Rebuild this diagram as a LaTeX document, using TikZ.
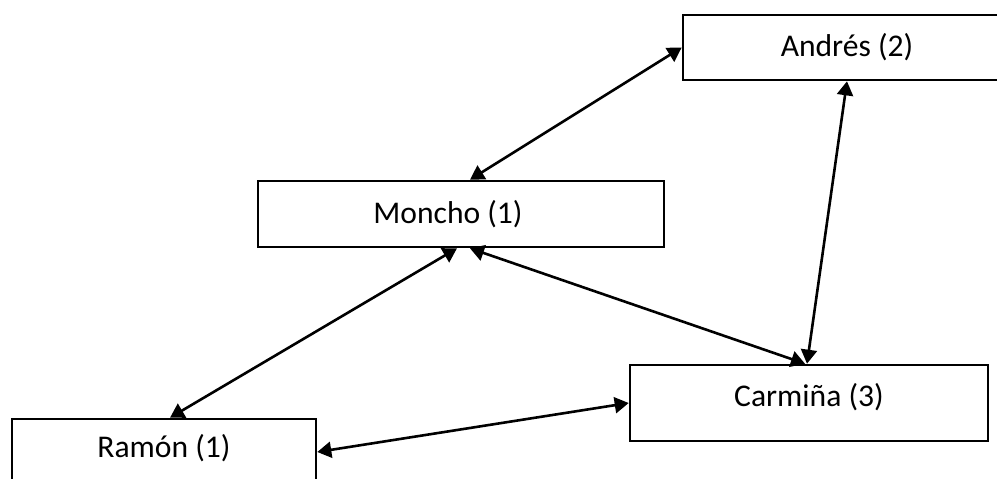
\documentclass[tikz,border=0pt]{standalone}
\usepackage{fontspec}
\setmainfont{Carlito}
\usetikzlibrary{arrows.meta,calc}

\tikzset{
  person/.style={draw=black, line width=2.6pt, fill=white, inner sep=0pt,
    font=\fontsize{31.6}{38}\selectfont},
  link/.style={line width=2.6pt, {Triangle[length=14pt,width=16pt]}-{Triangle[length=14pt,width=16pt]},
    shorten <=0pt, shorten >=0pt}
}

\begin{document}
\begin{tikzpicture}[x=1pt,y=-1pt]
  \useasboundingbox (0,0) rectangle (997,479);
  \clip (0,0) rectangle (997,479);

  % people
  \node[person, minimum width=328pt, minimum height=65pt] (andres) at (847,47.5) {Andrés (2)};
  \node[person, minimum width=406pt, minimum height=66pt] (moncho) at (461,214) {Moncho (1)\hspace*{26pt}};
  \node[person, minimum width=358pt, minimum height=76pt] (carmina) at (809,403) {};
  \node[font=\fontsize{31.6}{38}\selectfont, inner sep=0pt] (carminatxt) at (809,397) {Carmiña (3)};
  \node[person, minimum width=304pt, minimum height=66pt] (ramon) at (164,452) {};
  \node[font=\fontsize{31.6}{38}\selectfont, inner sep=0pt] (ramontxt) at (164,448) {Ramón (1)};

  % relations
  \draw[link] ($(moncho.north)+(9,0)$) -- (andres.west);
  \draw[link] (andres.south) -- ($(carmina.north)+(-2,0)$);
  \draw[link] ($(moncho.south)+(9,0)$) -- ($(carmina.north)+(-4,0)$);
  \draw[link] ($(moncho.south)+(-4,0)$) -- ($(ramon.north)+(6,0)$);
  \draw[link] (ramon.east) -- (carmina.west);
\end{tikzpicture}
\end{document}
